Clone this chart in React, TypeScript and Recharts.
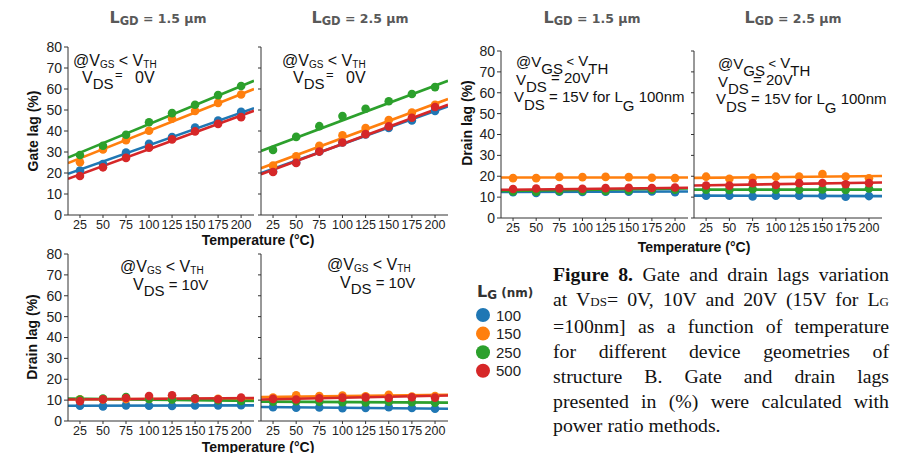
import React from "react";
import { ComposedChart, Scatter, Line, XAxis, YAxis } from "recharts";

const temps = [25, 50, 75, 100, 125, 150, 175, 200];
const yTicks = [0, 10, 20, 30, 40, 50, 60, 70, 80];
const fitX = [12, 214];

const lgNames = ["100", "150", "250", "500"];
const lgColors = ["#1f77b4", "#ff7f0e", "#2ca02c", "#d62728"];

// gate lag, VDS = 0V, LGD = 1.5 um
const gate15_100 = [21.2, 24.3, 29.7, 33.9, 37.1, 41.7, 45.0, 49.1];
const gate15_150 = [25.1, 31.2, 35.6, 40.1, 45.8, 49.6, 53.4, 57.4];
const gate15_250 = [28.6, 33.0, 38.2, 44.2, 48.5, 52.5, 57.1, 61.4];
const gate15_500 = [18.6, 22.7, 27.2, 32.0, 36.0, 39.8, 43.4, 46.6];
const gate15_fit = [[19.6, 50.9], [24.7, 60.0], [27.3, 63.9], [17.2, 49.6]];

// gate lag, VDS = 0V, LGD = 2.5 um
const gate25_100 = [20.7, 25.0, 30.2, 34.5, 38.3, 41.5, 45.0, 49.6];
const gate25_150 = [23.5, 28.0, 32.9, 37.9, 41.4, 45.2, 48.8, 52.5];
const gate25_250 = [31.0, 37.2, 42.3, 47.1, 50.6, 54.2, 57.6, 60.9];
const gate25_500 = [20.5, 24.8, 30.2, 34.5, 38.5, 42.2, 46.3, 51.4];
const gate25_fit = [[19.9, 51.7], [22.3, 55.2], [30.5, 63.9], [19.4, 52.5]];

// drain lag, VDS = 10V
const d10_15_100 = [7.3, 7.0, 7.5, 7.3, 7.2, 7.4, 7.5, 7.6];
const d10_15_150 = [10.4, 10.3, 10.5, 10.6, 10.4, 10.5, 10.6, 10.5];
const d10_15_250 = [10.3, 10.7, 11.5, 10.6, 10.3, 10.9, 9.9, 9.6];
const d10_15_500 = [9.5, 10.4, 11.0, 12.0, 12.3, 10.7, 10.4, 11.2];
const d10_15_fit = [[7.3, 7.5], [10.4, 10.6], [10.7, 9.6], [10.3, 11.0]];

const d10_25_100 = [6.6, 6.4, 6.5, 6.1, 6.3, 6.6, 6.2, 5.9];
const d10_25_150 = [11.2, 12.3, 12.0, 12.2, 11.8, 12.6, 11.7, 12.0];
const d10_25_250 = [9.3, 9.5, 9.3, 9.0, 8.9, 9.2, 9.0, 8.8];
const d10_25_500 = [10.6, 10.3, 10.9, 11.2, 11.3, 11.0, 11.4, 11.2];
const d10_25_fit = [[6.7, 5.9], [11.5, 12.5], [9.3, 8.8], [10.3, 12.2]];

// drain lag, VDS = 20V (15V for LG 100nm)
const d20_15_100 = [12.3, 12.0, 12.6, 12.5, 12.6, 12.6, 12.7, 12.3];
const d20_15_150 = [19.1, 19.1, 19.7, 19.6, 19.7, 19.6, 19.3, 19.1];
const d20_15_250 = [12.7, 12.6, 13.0, 13.0, 13.0, 13.2, 13.5, 13.6];
const d20_15_500 = [13.9, 14.1, 14.2, 14.0, 14.3, 14.5, 14.4, 14.6];
const d20_15_fit = [[12.5, 12.7], [19.4, 19.4], [12.9, 14.2], [13.5, 14.5]];

const d20_25_100 = [10.7, 10.7, 10.3, 10.7, 10.7, 10.8, 10.2, 10.5];
const d20_25_150 = [19.8, 18.8, 19.2, 19.8, 19.9, 21.1, 19.9, 19.0];
const d20_25_250 = [13.6, 13.4, 13.8, 13.6, 13.5, 13.7, 13.4, 14.1];
const d20_25_500 = [15.6, 15.5, 16.7, 15.8, 16.7, 16.8, 16.2, 16.7];
const d20_25_fit = [[10.7, 10.5], [19.2, 20.1], [13.6, 13.6], [15.6, 17.0]];

const sans = "'Liberation Sans', Arial, sans-serif";
const heavy = "'DejaVu Sans', Verdana, sans-serif";

type PanelProps = {
  x: number;
  y: number;
  w: number;
  h: number;
  labels: boolean;
  points: number[][];
  fits: number[][];
};

function Panel({ x, y, w, h, labels, points, fits }: PanelProps) {
  const yw = 36;
  const mt = 10;
  return (
    <div style={{ position: "absolute", left: x - yw, top: y - mt }}>
      <ComposedChart
        width={yw + w + 4}
        height={h + mt + 24}
        margin={{ top: mt, right: 4, bottom: 0, left: 0 }}
        style={{ fontFamily: sans }}
      >
        <XAxis
          type="number"
          dataKey="t"
          domain={fitX}
          allowDataOverflow
          ticks={temps}
          interval={0}
          tickSize={3}
          height={24}
          stroke="#333"
          tick={{ fontSize: 12.5, fill: "#222" }}
        />
        <YAxis
          type="number"
          dataKey="v"
          domain={[0, 80]}
          ticks={yTicks}
          interval={0}
          width={yw}
          tickSize={labels ? 4 : 3}
          stroke="#333"
          tick={{ fontSize: 14, fill: "#222" }}
          tickFormatter={(v) => (labels ? String(v) : "")}
        />
        {fits.map((f, i) => (
          <Line
            key={"f" + i}
            data={[{ t: fitX[0], v: f[0] }, { t: fitX[1], v: f[1] }]}
            dataKey="v"
            type="linear"
            stroke={lgColors[i]}
            strokeWidth={2.6}
            dot={false}
            isAnimationActive={false}
          />
        ))}
        {points.map((p, i) => (
          <Scatter
            key={"s" + i}
            data={temps.map((t, j) => ({ t, v: p[j] }))}
            dataKey="v"
            fill={lgColors[i]}
            shape={(s: any) => <circle cx={s.cx} cy={s.cy} r={4.3} fill={lgColors[i]} />}
            isAnimationActive={false}
          />
        ))}
      </ComposedChart>
    </div>
  );
}

function Cond({ x, y }: { x: number; y: number }) {
  return (
    <text x={x} y={y} fontSize={16} fill="#111">
      @V
      <tspan fontSize={10} dy={2}>GS</tspan>
      <tspan dy={-2}>{" < V"}</tspan>
      <tspan fontSize={10} dy={2}>TH</tspan>
    </text>
  );
}

function Title({ x, y, v }: { x: number; y: number; v: string }) {
  return (
    <text x={x} y={y} textAnchor="middle" fontFamily={heavy} fontWeight="bold" fill="#595959">
      <tspan fontSize={16}>L</tspan>
      <tspan fontSize={11.5} dy={2}>GD</tspan>
      <tspan fontSize={12.5} dy={-2}>{` = ${v} μm`}</tspan>
    </text>
  );
}

function Cond20({ dx, dy }: { dx: number; dy: number }) {
  const x = 516 + dx;
  return (
    <g fontSize={15} fill="#111" transform={`translate(0 ${dy})`}>
      <text x={x} y={67}>
        @V<tspan dy={7}>GS</tspan>
        <tspan dy={-8} fontSize={13}>{" <"}</tspan>
        <tspan>{" V"}</tspan>
        <tspan dy={8}>TH</tspan>
      </text>
      <text x={x} y={85}>
        V<tspan dy={7}>DS</tspan>
        <tspan dy={-9}>{" = 20V"}</tspan>
      </text>
      <text x={x - 2} y={102}>
        V<tspan dy={8}>DS</tspan>
        <tspan dy={-8}>{" = 15V for L"}</tspan>
        <tspan dy={9}>G</tspan>
        <tspan dy={-9}>{" 100nm"}</tspan>
      </text>
    </g>
  );
}

const caption: React.ReactNode[] = [
  <>
    <b>Figure 8.</b> Gate and drain lags variation
  </>,
  <>
    at V<span style={{ fontSize: 13 }}>DS</span>= 0V, 10V and 20V (15V for L<span style={{ fontSize: 13 }}>G</span>
  </>,
  <>=100nm] as a function of temperature</>,
  <>for different device geometries of</>,
  <>structure B. Gate and drain lags</>,
  <>presented in (%) were calculated with</>,
  <>power ratio methods.</>,
];

export default function App() {
  return (
    <div
      style={{
        position: "absolute",
        left: 0,
        top: 0,
        width: 909,
        height: 453,
        background: "#fff",
        overflow: "hidden",
        fontFamily: sans,
      }}
    >
      <Panel x={68} y={47} w={186} h={168} labels points={[gate15_100, gate15_150, gate15_250, gate15_500]} fits={gate15_fit} />
      <Panel x={261} y={47} w={187} h={168} labels={false} points={[gate25_100, gate25_150, gate25_250, gate25_500]} fits={gate25_fit} />
      <Panel x={68} y={254} w={186} h={167} labels points={[d10_15_100, d10_15_150, d10_15_250, d10_15_500]} fits={d10_15_fit} />
      <Panel x={261} y={254} w={187} h={167} labels={false} points={[d10_25_100, d10_25_150, d10_25_250, d10_25_500]} fits={d10_25_fit} />
      <Panel x={501} y={51} w={187} h={167} labels points={[d20_15_100, d20_15_150, d20_15_250, d20_15_500]} fits={d20_15_fit} />
      <Panel x={694} y={51} w={188} h={167} labels={false} points={[d20_25_100, d20_25_150, d20_25_250, d20_25_500]} fits={d20_25_fit} />

      <svg width={909} height={453} style={{ position: "absolute", left: 0, top: 0, pointerEvents: "none" }} fontFamily={sans}>
        <Title x={158} y={23} v="1.5" />
        <Title x={360} y={23} v="2.5" />
        <Title x={592} y={23} v="1.5" />
        <Title x={793} y={23} v="2.5" />

        <g fontSize={14} fontWeight="bold" fill="#111">
          <text transform="translate(38 131) rotate(-90)" textAnchor="middle">Gate lag (%)</text>
          <text transform="translate(37 337) rotate(-90)" textAnchor="middle">Drain lag (%)</text>
          <text transform="translate(472 123) rotate(-90)" textAnchor="middle">Drain lag (%)</text>
          <text x={258} y={245} textAnchor="middle">Temperature (°C)</text>
          <text x={258} y={452} textAnchor="middle">Temperature (°C)</text>
          <text x={694} y={252} textAnchor="middle">Temperature (°C)</text>
        </g>

        <Cond x={73} y={66} />
        <g fontSize={16} fill="#111">
          <text x={82} y={83}>V<tspan fontSize={15} dy={6}>DS</tspan></text>
          <text x={115} y={79} fontSize={13}>=</text>
          <text x={135} y={83}>0V</text>
        </g>
        <Cond x={282} y={66} />
        <g fontSize={16} fill="#111">
          <text x={293} y={83}>V<tspan fontSize={15} dy={6}>DS</tspan></text>
          <text x={326} y={79} fontSize={13}>=</text>
          <text x={346} y={83}>0V</text>
        </g>

        <Cond x={120} y={272} />
        <text x={133} y={290} fontSize={16} fill="#111">
          V<tspan fontSize={15} dy={6}>DS</tspan>
          <tspan fontSize={15} dy={-6}>{" = 10V"}</tspan>
        </text>
        <Cond x={327} y={270} />
        <text x={340} y={288} fontSize={16} fill="#111">
          V<tspan fontSize={15} dy={6}>DS</tspan>
          <tspan fontSize={15} dy={-6}>{" = 10V"}</tspan>
        </text>

        <Cond20 dx={0} dy={0} />
        <Cond20 dx={202} dy={2} />

        <text x={477} y={297} fill="#333" fontFamily={heavy} fontWeight="bold">
          <tspan fontSize={16}>L</tspan>
          <tspan fontSize={12} dy={2}>G</tspan>
          <tspan fontSize={12} dy={-2}>{" (nm)"}</tspan>
        </text>
        {lgNames.map((n, i) => (
          <g key={n}>
            <circle cx={483} cy={315 + i * 18.6} r={7} fill={lgColors[i]} />
            <text x={496} y={315 + i * 18.6 + 5.5} fontSize={15} fill="#222">{n}</text>
          </g>
        ))}
      </svg>

      <div
        style={{
          position: "absolute",
          left: 553,
          top: 262,
          width: 336,
          fontFamily: "'Liberation Serif', 'Times New Roman', serif",
          fontSize: 19.8,
          lineHeight: "24.7px",
          color: "#111",
        }}
      >
        {caption.map((c, i) => (
          <div
            key={i}
            style={{
              textAlign: i < caption.length - 1 ? "justify" : "left",
              textAlignLast: i < caption.length - 1 ? "justify" : "left",
              whiteSpace: "nowrap",
            }}
          >
            {c}
          </div>
        ))}
      </div>
    </div>
  );
}
